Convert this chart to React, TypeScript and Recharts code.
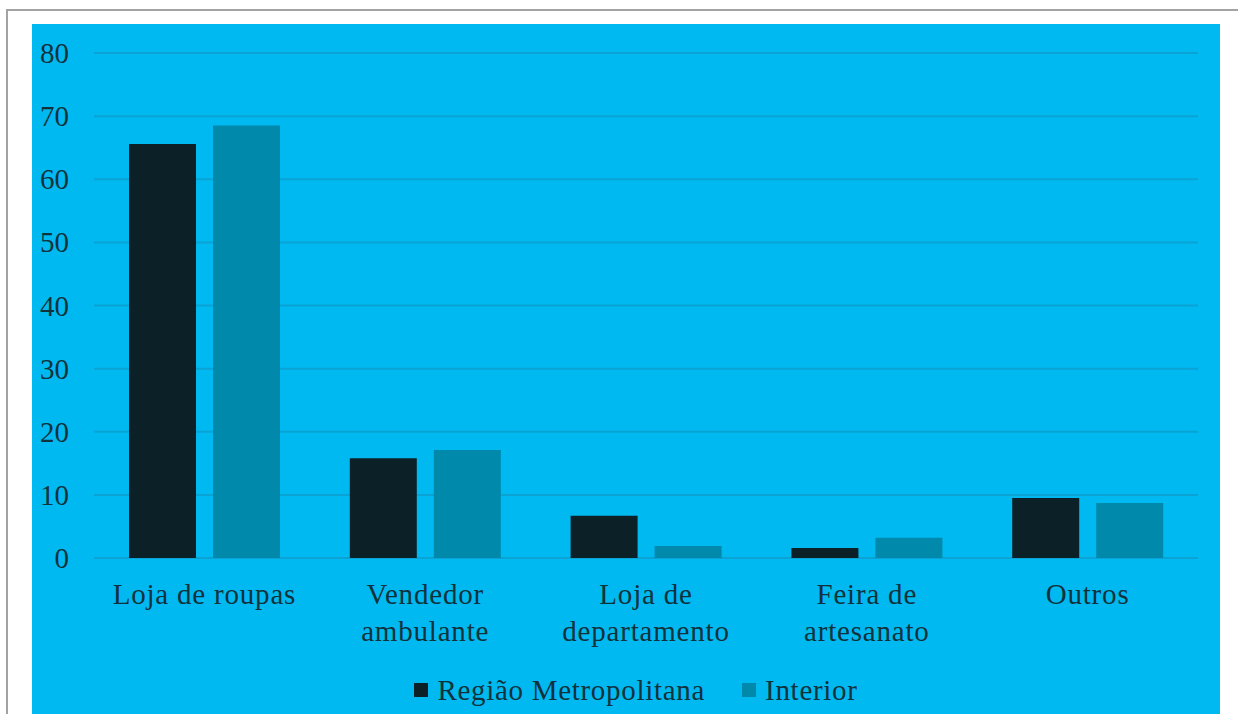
import React from 'react';
import { BarChart, Bar, XAxis, YAxis, CartesianGrid, Legend } from 'recharts';

const categories = ['Loja de roupas', 'Vendedor\nambulante', 'Loja de\ndepartamento', 'Feira de\nartesanato', 'Outros'];
const metropolitana = [65.6, 15.8, 6.7, 1.6, 9.5];
const interior = [68.5, 17.1, 1.9, 3.2, 8.7];
const yTicks = [0, 10, 20, 30, 40, 50, 60, 70, 80];

const seriesNames = ['Região Metropolitana', 'Interior'];
const colors = ['#0c2127', '#0089ab'];
const textColor = '#10323c';
const font = '"Liberation Serif", "Times New Roman", serif';

const data = categories.map((name, i) => ({
  name,
  metro: metropolitana[i],
  interior: interior[i],
}));

const CategoryTick = (props: any) => {
  const { x, y, payload } = props;
  const lines = String(payload.value).split('\n');
  return (
    <text
      x={x}
      y={y}
      textAnchor="middle"
      fill={textColor}
      fontSize={29}
      style={{ fontFamily: font, letterSpacing: 0.8 }}
    >
      {lines.map((line, i) => (
        <tspan key={i} x={x} dy={i === 0 ? 38 : 37}>
          {line}
        </tspan>
      ))}
    </text>
  );
};

const ValueTick = (props: any) => {
  const { x, y, payload } = props;
  return (
    <text x={x} y={y} dy={10} textAnchor="end" fill={textColor} fontSize={29} style={{ fontFamily: font }}>
      {payload.value}
    </text>
  );
};

const LegendBox = () => (
  <div
    style={{
      height: 30,
      display: 'flex',
      justifyContent: 'center',
      alignItems: 'center',
      paddingLeft: 20,
      fontFamily: font,
      fontSize: 29,
      letterSpacing: 0.7,
      color: textColor,
    }}
  >
    {seriesNames.map((name, i) => (
      <div key={name} style={{ display: 'flex', alignItems: 'center', marginRight: i === 0 ? 37 : 0 }}>
        <span style={{ width: 14, height: 14, background: colors[i], marginRight: 9, display: 'inline-block' }} />
        <span>{name}</span>
      </div>
    ))}
  </div>
);

export default function App() {
  return (
    <div style={{ position: 'absolute', left: 0, top: 0, width: 1238, height: 714, background: '#fff', overflow: 'hidden' }}>
      <div
        style={{
          position: 'absolute',
          left: 6,
          top: 9,
          width: 1400,
          height: 900,
          border: '2px solid #a3a3a3',
        }}
      />
      <div style={{ position: 'absolute', left: 32, top: 24, width: 1188, height: 690, background: '#00b9f1' }}>
        <BarChart
          width={1188}
          height={690}
          data={data}
          margin={{ top: 29, right: 22, left: 0, bottom: 9 }}
          barSize={67}
          barGap={17}
        >
          <CartesianGrid vertical={false} stroke="#0aa3d3" strokeWidth={2} />
          <XAxis
            dataKey="name"
            axisLine={false}
            tickLine={false}
            interval={0}
            height={117}
            tick={<CategoryTick />}
          />
          <YAxis
            domain={[0, 80]}
            ticks={yTicks}
            axisLine={false}
            tickLine={false}
            width={62}
            tickMargin={19}
            tick={<ValueTick />}
          />
          <Legend verticalAlign="bottom" wrapperStyle={{ left: 0, width: 1188 }} content={<LegendBox />} />
          <Bar dataKey="metro" name={seriesNames[0]} fill={colors[0]} isAnimationActive={false} />
          <Bar dataKey="interior" name={seriesNames[1]} fill={colors[1]} isAnimationActive={false} />
        </BarChart>
      </div>
    </div>
  );
}
